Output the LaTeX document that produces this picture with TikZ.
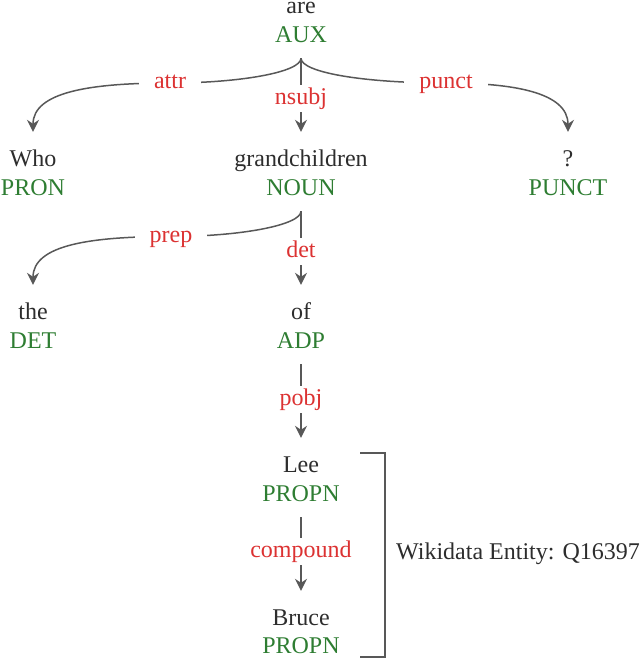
\documentclass[tikz,border=0pt]{standalone}
\usepackage{fontspec}
\setmainfont{Liberation Serif}
\usetikzlibrary{arrows.meta}
\definecolor{txt}{RGB}{45,45,45}
\definecolor{posgreen}{RGB}{46,125,50}
\definecolor{labred}{RGB}{220,50,50}
\definecolor{edgegray}{RGB}{88,88,88}
\begin{document}
\begin{tikzpicture}[x=1pt,y=-1pt,
  wordtok/.style={font=\fontsize{24}{29}\selectfont, text=txt, text height=16pt, text depth=5pt, inner xsep=0pt, inner ysep=18pt, anchor=base},
  roottok/.style={font=\fontsize{24}{29}\selectfont, text=txt, inner sep=0pt, anchor=base},
  postag/.style={font=\fontsize{24}{29}\selectfont, text=posgreen, text height=16pt, text depth=5pt, inner xsep=0pt, inner ysep=11pt, anchor=base},
  deplab/.style={font=\fontsize{24}{29}\selectfont, text=labred, fill=white, text height=16pt, text depth=5pt, inner xsep=15pt, inner ysep=3pt},
  conn/.style={draw=edgegray, line width=1.5pt},
  arr/.style={conn, -{Stealth[length=12pt, width=12pt, inset=4pt]}},
  bracketline/.style={draw=edgegray, line width=1.5pt}
]
\useasboundingbox (0,0) rectangle (640,659);

% tokens
\node[roottok] (are) at (301,13) {are};
\node[postag] (aux) at (301,42) {AUX};
\node[wordtok] (who) at (33,166) {Who};
\node[postag] (pron) at (33,195) {PRON};
\node[wordtok] (grand) at (301,166) {grandchildren};
\node[postag] (noun) at (301,195) {NOUN};
\node[wordtok] (qm) at (568,166) {?};
\node[postag] (punctpos) at (568,195) {PUNCT};
\node[wordtok] (the) at (33,319) {the};
\node[postag] (detpos) at (33,348) {DET};
\node[wordtok] (of) at (301,319) {of};
\node[postag] (adp) at (301,348) {ADP};
\node[wordtok] (lee) at (301,472) {Lee};
\node[postag] (propnA) at (301,501) {PROPN};
\node[wordtok] (bruce) at (301,625) {Bruce};
\node[postag] (propnB) at (301,653) {PROPN};

% label points
\coordinate (p-attr) at (170,83);
\coordinate (p-punct) at (446,83);
\coordinate (p-nsubj) at (301,98.5);
\coordinate (p-prep) at (171,236.5);
\coordinate (p-det) at (301,251.5);
\coordinate (p-pobj) at (301,399.5);
\coordinate (p-comp) at (301,551.5);

% connectors
\draw[arr] (aux.south) .. controls +(0,14) and (240,83) .. (p-attr)
  .. controls (90,83) and (33,92) .. (who.north);
\draw[arr] (aux.south) .. controls +(0,14) and (362,83) .. (p-punct)
  .. controls (512,83) and (568,92) .. (qm.north);
\draw[arr] (aux.south) -- (p-nsubj) -- (grand.north);
\draw[arr] (noun.south) .. controls +(0,14) and (240,236.5) .. (p-prep)
  .. controls (90,236.5) and (33,245) .. (the.north);
\draw[arr] (noun.south) -- (p-det) -- (of.north);
\draw[arr] (adp.south) -- (p-pobj) -- (lee.north);
\draw[arr] (propnA.south) -- (p-comp) -- (bruce.north);

% labels
\node[deplab] (l-attr) at (p-attr) {attr};
\node[deplab] (l-punct) at (p-punct) {punct};
\node[deplab] (l-nsubj) at (p-nsubj) {nsubj};
\node[deplab] (l-prep) at (p-prep) {prep};
\node[deplab] (l-det) at (p-det) {det};
\node[deplab] (l-pobj) at (p-pobj) {pobj};
\node[deplab] (l-comp) at (p-comp) {compound};

% entity bracket
\coordinate (b1) at (360,453);
\coordinate (b2) at (385,453);
\coordinate (b3) at (385,657);
\coordinate (b4) at (360,657);
\draw[bracketline] (b1) -- (b2) -- (b3) -- (b4);
\node[font=\fontsize{24}{29}\selectfont, text=txt, anchor=base west, inner sep=0pt] (wiki) at (396,559) {Wikidata Entity: Q16397};
\end{tikzpicture}
\end{document}
